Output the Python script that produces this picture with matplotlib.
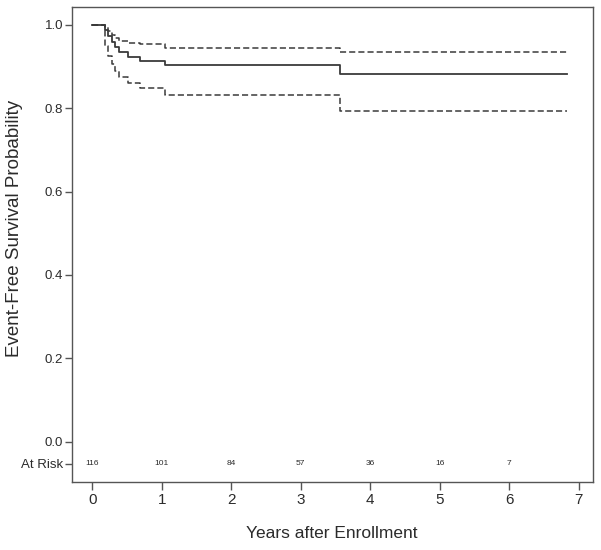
import numpy as np
import matplotlib.pyplot as plt

plt.rcParams["font.family"] = ["Liberation Sans", "DejaVu Sans"]

# Kaplan-Meier estimate with 95% confidence band
times = [0, 0.18, 0.23, 0.28, 0.33, 0.39, 0.52, 0.69, 1.05, 3.57, 6.83]
surv = [1.0, 0.988, 0.974, 0.960, 0.948, 0.936, 0.922, 0.913, 0.904, 0.882, 0.882]
upper = [1.0, 0.995, 0.985, 0.976, 0.968, 0.962, 0.957, 0.953, 0.945, 0.934, 0.934]
lower = [1.0, 0.950, 0.925, 0.905, 0.890, 0.876, 0.860, 0.848, 0.832, 0.793, 0.793]

risk_years = [0, 1, 2, 3, 4, 5, 6]
at_risk = [116, 101, 84, 57, 36, 16, 7]
risk_row = -0.053

ink = "#2b2b2b"

fig = plt.figure(figsize=(6.01, 5.5), dpi=100)
ax = fig.add_axes([0.1193, 0.1242, 0.8669, 0.8631])

ax.step(times, surv, where="post", color="#3a3a3a", lw=1.3)
ax.step(times, upper, where="post", color="#3a3a3a", lw=1.1, ls=(0, (4, 2)))
ax.step(times, lower, where="post", color="#3a3a3a", lw=1.1, ls=(0, (4, 2)))

for yr, n in zip(risk_years, at_risk):
    ax.text(yr, risk_row, str(n), ha="center", va="center", fontsize=6, color=ink)

ax.set_xlim(-0.297, 7.2)
ax.set_ylim(-0.096, 1.043)

ax.set_xticks(range(8))
ax.set_xticklabels([str(i) for i in range(8)], fontsize=11, color=ink)
yt = [risk_row, 0.0, 0.2, 0.4, 0.6, 0.8, 1.0]
ax.set_yticks(yt)
ax.set_yticklabels(["At Risk", "0.0", "0.2", "0.4", "0.6", "0.8", "1.0"],
                   fontsize=9.5, color=ink)
ax.tick_params(axis="both", direction="out", length=5, width=1, color="#555555")
ax.tick_params(axis="x", length=6, pad=2)
ax.tick_params(axis="y", pad=1)

for s in ax.spines.values():
    s.set_color("#555555")
    s.set_linewidth(1.0)

ax.set_xlabel("Years after Enrollment", fontsize=12.5, color=ink, labelpad=14)
ax.set_ylabel("Event-Free Survival Probability", fontsize=13.5, color=ink,
              va="center")
ax.yaxis.set_label_coords(-0.109, 0.534)

fig.savefig("out.png", dpi=100)
